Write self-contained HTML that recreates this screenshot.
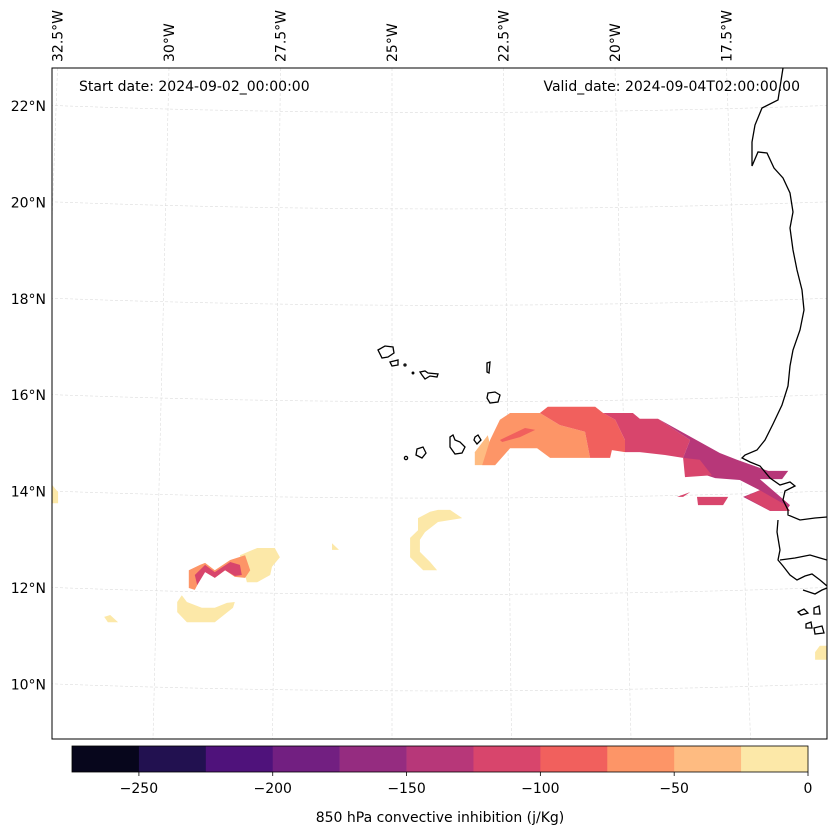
<!DOCTYPE html>
<html><head><meta charset="utf-8"><style>
html,body{margin:0;padding:0;background:#fff}
svg{display:block;font-family:"DejaVu Sans","Liberation Sans",sans-serif}
</style></head><body>
<svg id="chart" width="837" height="836" viewBox="0 0 837 836" xmlns="http://www.w3.org/2000/svg">
<defs><clipPath id="mapclip"><rect x="52" y="68" width="775" height="671"/></clipPath></defs>
<rect x="0" y="0" width="837" height="836" fill="#fff"/>
<g id="grid" clip-path="url(#mapclip)"></g>
<g id="fills" clip-path="url(#mapclip)"></g>
<g id="coast" clip-path="url(#mapclip)" fill="none" stroke="#000" stroke-width="1.3">
<path d="M783,68 L778,100 L762,108 L755,125 L752,142 L752,166 L758,152 L767,153 L774,168 L783,178 L790,193 L793,212 L790,228 L793,250 L797,270 L802,290 L804,310 L800,330 L793,350 L790,366 L788,386 L782,405 L773,424 L765,440 L757,450 L745,455 L742,458 L750,462 L760,466 L770,478 L780,485 L790,482 L795,486 L785,491 L783,500 L788,510 L788,515 L800,520 L815,518 L827,517"/>
<path d="M778,520 L777,532 L780,550 L778,560 L783,566 L790,575 L797,580 L805,576 L812,574 L820,580 L827,586"/>
<path d="M780,560 L795,558 L810,555 L820,558 L827,560"/>
<path d="M803,590 L815,594 L822,590 L827,588"/>
<path d="M798,612 L804,609 L808,613 L801,615 Z"/>
<path d="M814,608 L819,606 L820,614 L814,614 Z"/>
<path d="M806,624 L811,622 L812,628 L806,628 Z"/>
<path d="M814,628 L822,626 L824,633 L815,634 Z"/>
<path d="M378,350 L385,346 L393,347 L394,353 L388,357 L382,358 Z"/>
<path d="M390,362 L398,360 L398,365 L392,366 Z"/>
<circle cx="405" cy="365" r="1"/>
<circle cx="413" cy="373" r="0.8"/>
<path d="M420,372 L425,371 L428,373 L438,374 L437,377 L430,376 L425,379 L422,375 Z"/>
<path d="M487,363 L490,362 L489,373 L487,372 Z"/>
<path d="M488,393 L495,392 L500,395 L498,402 L490,403 L487,398 Z"/>
<path d="M475,437 L478,435 L481,440 L477,444 L474,440 Z"/>
<path d="M450,437 L453,435 L455,440 L460,442 L465,447 L462,453 L455,454 L450,447 Z"/>
<path d="M417,449 L423,447 L426,453 L422,458 L416,455 Z"/>
<circle cx="406" cy="458" r="1.6"/>
</g>
<rect x="52" y="68" width="775" height="671" fill="none" stroke="#000" stroke-width="1"/>
<g id="latlabels" font-size="14" fill="#000" text-anchor="end"></g>
<g id="lonlabels" font-size="14" fill="#000"></g>
<text x="79" y="91" font-size="14">Start date: 2024-09-02_00:00:00</text>
<text x="800" y="91" font-size="14" text-anchor="end">Valid_date: 2024-09-04T02:00:00.00</text>
<g id="colorbar"></g>
<text x="440" y="822" font-size="14" text-anchor="middle">850 hPa convective inhibition (j/Kg)</text>
</svg>
<script>
// ---- data ----
const levels = [-275,-250,-225,-200,-175,-150,-125,-100,-75,-50,-25,0];
const levelColors = ['#07061c','#221150','#4f127b','#721f81','#952c80','#b73779','#d8456c','#f1605d','#fd9567','#febb81','#fce8a8'];
const cbarTicks = [-250,-200,-150,-100,-50,0];
const latTicks = [22,20,18,16,14,12,10];
const lonTicks = [-32.5,-30,-27.5,-25,-22.5,-20,-17.5];
// filled CIN regions: value (class midpoint, j/Kg) and [lon,lat] outline
const regionValues = [-37,-62,-87,-87,-112,-137,-112,-112,-112,-112,-12,-12,-12,-12,-12,-62,-112,-12,-12];
const regionOutlines = [
 [[-23.22,14.55],[-23.22,14.82],[-22.94,15.17],[-22.78,14.55]],
 [[-23.06,14.55],[-22.89,15.07],[-22.68,15.49],[-22.46,15.63],[-21.82,15.63],[-21.39,15.38],[-20.85,15.24],[-20.74,14.70],[-21.60,14.70],[-21.88,14.90],[-22.46,14.90],[-22.78,14.55]],
 [[-21.82,15.63],[-21.65,15.76],[-20.63,15.76],[-20.46,15.63],[-20.20,15.49],[-19.99,15.07],[-19.99,14.82],[-20.27,14.86],[-20.31,14.70],[-20.74,14.70],[-20.85,15.24],[-21.39,15.38]],
 [[-22.68,15.07],[-22.14,15.32],[-21.92,15.28],[-22.25,15.13],[-22.63,15.03]],
 [[-20.46,15.63],[-19.82,15.63],[-19.67,15.51],[-19.28,15.51],[-18.59,15.07],[-18.74,14.70],[-19.13,14.76],[-19.67,14.82],[-19.99,14.82],[-19.99,15.07],[-20.20,15.49]],
 [[-19.28,15.51],[-17.95,14.80],[-17.58,14.66],[-16.91,14.43],[-16.48,14.43],[-16.61,14.26],[-17.09,14.26],[-16.44,13.72],[-16.53,13.60],[-16.87,13.60],[-17.45,13.89],[-17.09,14.03],[-17.52,14.24],[-18.05,14.28],[-18.59,14.45],[-18.74,14.70],[-18.59,15.07]],
 [[-18.74,14.70],[-18.38,14.66],[-18.12,14.34],[-18.70,14.30]],
 [[-18.44,13.89],[-17.77,13.89],[-17.88,13.72],[-18.42,13.72]],
 [[-17.41,13.89],[-17.09,14.03],[-16.53,13.72],[-16.44,13.60],[-16.87,13.60]],
 [[-18.87,13.89],[-18.59,13.99],[-18.74,13.89]],
 [[-28.27,12.68],[-27.90,12.83],[-27.52,12.83],[-27.41,12.64],[-27.58,12.44],[-27.62,12.27],[-27.90,12.12],[-28.12,12.12]],
 [[-29.62,11.71],[-29.52,11.85],[-29.41,11.71],[-29.09,11.59],[-28.81,11.59],[-28.55,11.69],[-28.38,11.71],[-28.42,11.59],[-28.81,11.29],[-29.41,11.29],[-29.62,11.50]],
 [[-24.44,13.45],[-24.18,13.58],[-24.01,13.62],[-23.75,13.62],[-23.49,13.45],[-24.01,13.37],[-24.29,13.16],[-24.40,13.00],[-24.40,12.75],[-24.18,12.54],[-24.03,12.37],[-24.33,12.37],[-24.61,12.64],[-24.61,13.04],[-24.44,13.20]],
 [[-26.29,12.93],[-26.14,12.79],[-26.29,12.79]],
 [[-32.31,14.14],[-32.18,13.99],[-32.18,13.76],[-32.31,13.76]],
 [[-29.37,12.37],[-29.13,12.48],[-29.02,12.52],[-28.81,12.37],[-28.48,12.58],[-28.16,12.68],[-28.05,12.37],[-28.16,12.21],[-28.38,12.23],[-28.59,12.37],[-28.81,12.21],[-29.02,12.37],[-29.24,11.96],[-29.37,12.00]],
 [[-29.24,12.27],[-29.02,12.48],[-28.81,12.33],[-28.48,12.54],[-28.27,12.48],[-28.23,12.27],[-28.38,12.25],[-28.59,12.37],[-28.81,12.21],[-29.02,12.33],[-29.19,12.06]],
 [[-31.19,11.40],[-31.06,11.44],[-30.89,11.29],[-31.11,11.29]],
 [[-15.90,10.67],[-15.80,10.80],[-15.65,10.80],[-15.65,10.51],[-15.90,10.51]]
];
// ---- projection ----
function xData(lon){ return 392 + (lon + 25) * 46.5; }
function yData(lat){ return 106 + (22 - lat) * 48.2; }
function yLatLeft(lat){ return 106 + (22 - lat) * 48.2; }
function xLonTop(lon){ return 392 + (lon + 25) * 44.6; }
function xLonBot(lon){ return 392 + (lon + 25) * 47.8; }
function colorFor(v){ for(let i=0;i<levelColors.length;i++){ if(v>=levels[i] && v<levels[i+1]) return levelColors[i]; } return levelColors[levelColors.length-1]; }
const NS='http://www.w3.org/2000/svg';
function mk(tag, attrs, parent){ const e=document.createElementNS(NS,tag); for(const k in attrs) e.setAttribute(k,attrs[k]); parent.appendChild(e); return e; }
// grid
const grid=document.getElementById('grid');
latTicks.forEach(lat=>{
  const y=yLatLeft(lat);
  const p=mk('path',{d:`M40,${y-1} Q440,${y+14} 840,${y-1}`,fill:'none',stroke:'#dcdcdc','stroke-width':0.6,'stroke-dasharray':'3,2'},grid);
  
  
});
lonTicks.forEach(lon=>{
  const l=mk('line',{x1:xLonTop(lon),y1:68,x2:xLonBot(lon),y2:739,stroke:'#dcdcdc','stroke-width':0.6,'stroke-dasharray':'3,2'},grid);
  
  
});
// fills
const fills=document.getElementById('fills');
regionOutlines.forEach((pts,i)=>{
  const d='M'+pts.map(p=>xData(p[0]).toFixed(1)+','+yData(p[1]).toFixed(1)).join(' L')+' Z';
  const p=mk('path',{d:d,fill:colorFor(regionValues[i]),stroke:'none'},fills);
  
  
});
// lat labels
const latG=document.getElementById('latlabels');
latTicks.forEach(lat=>{
  const t=mk('text',{x:46,y:yLatLeft(lat)+5},latG);
  t.textContent=lat+'°N';
  
  
});
// lon labels
const lonG=document.getElementById('lonlabels');
lonTicks.forEach(lon=>{
  const x=xLonTop(lon)+5, y=62;
  const t=mk('text',{x:x,y:y,transform:`rotate(-90 ${x} ${y})`},lonG);
  t.textContent=Math.abs(lon)+'°W';
  
  
});
// colorbar
const cb=document.getElementById('colorbar');
function xCb(v){ return 72 + (v - levels[0]) / (levels[levels.length-1]-levels[0]) * 736; }
levelColors.forEach((c,i)=>{
  const r=mk('rect',{x:xCb(levels[i]),y:746,width:xCb(levels[i+1])-xCb(levels[i])+0.3,height:26,fill:c},cb);
  
  
});
const fr=mk('rect',{x:72,y:746,width:736,height:26,fill:'none',stroke:'#000','stroke-width':0.8},cb);


cbarTicks.forEach(v=>{
  const x=xCb(v);
  const l=mk('line',{x1:x,y1:772,x2:x,y2:776,stroke:'#000','stroke-width':0.8},cb);
  
  
  const t=mk('text',{x:x,y:793,'font-size':14,'text-anchor':'middle'},cb);
  t.textContent=(v<0?'\u2212'+Math.abs(v):String(v));
  
  
});
</script>
</body></html>
